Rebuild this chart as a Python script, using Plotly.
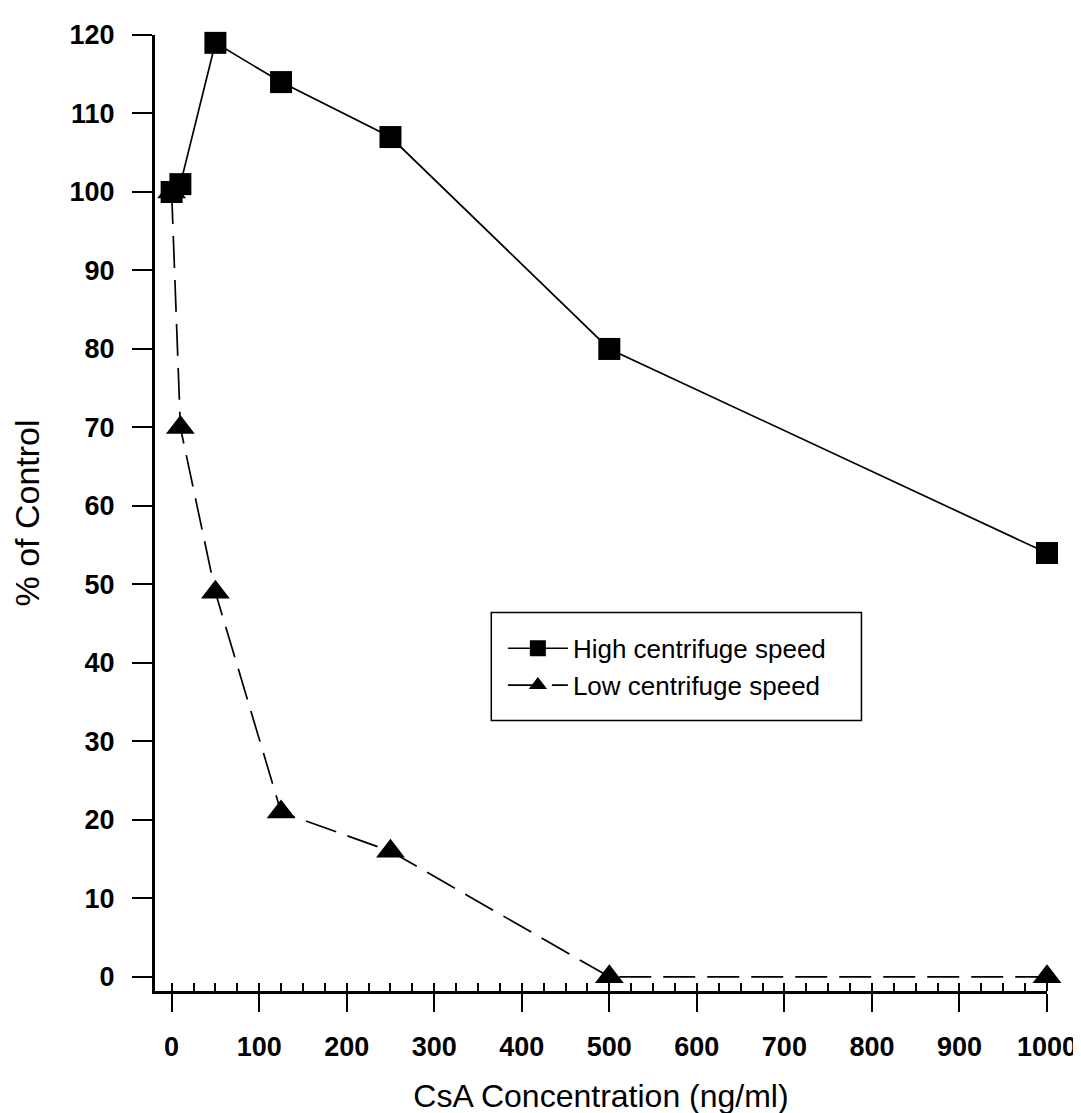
import plotly.graph_objects as go

conc = [0, 10, 50, 125, 250, 500, 1000]
high_speed = [100, 101, 119, 114, 107, 80, 54]
low_speed = [100, 70, 49, 21, 16, 0, 0]
x_ticks = [0, 100, 200, 300, 400, 500, 600, 700, 800, 900, 1000]
y_ticks = [0, 10, 20, 30, 40, 50, 60, 70, 80, 90, 100, 110, 120]

FONT = "Liberation Sans, Arial, sans-serif"

fig = go.Figure()
fig.add_trace(go.Scatter(
    x=conc, y=high_speed, mode="lines+markers", name="High centrifuge speed",
    line=dict(color="black", width=1.7),
    marker=dict(symbol="square", size=22, color="black"),
    cliponaxis=False,
))
fig.add_trace(go.Scatter(
    x=conc, y=low_speed, mode="lines+markers", name="Low centrifuge speed",
    line=dict(color="black", width=1.7, dash="32px,12px"),
    marker=dict(symbol="triangle-up", size=25, color="black"),
    cliponaxis=False,
))

fig.add_shape(type="rect", xref="paper", yref="paper",
              x0=0.377, x1=0.792, y0=0.283, y1=0.396,
              line=dict(color="black", width=1.5), fillcolor="rgba(0,0,0,0)")

fig.update_layout(
    width=1081, height=1113,
    margin=dict(l=147, r=35, t=24, b=129),
    paper_bgcolor="white", plot_bgcolor="white",
    font=dict(family=FONT, color="black"),
    showlegend=True,
    legend=dict(x=0.390, y=0.383, xanchor="left", yanchor="top",
                bgcolor="rgba(0,0,0,0)", borderwidth=0,
                font=dict(size=26, family=FONT), tracegroupgap=0,
                itemwidth=60),
    xaxis=dict(
        range=[-19, 1000], tickvals=x_ticks,
        showline=True, linecolor="black", linewidth=3,
        ticks="outside", ticklen=18, tickwidth=2, tickcolor="black",
        minor=dict(ticks="inside", dtick=25, tick0=0, ticklen=8, tickwidth=1.5, tickcolor="black"),
        showgrid=False, zeroline=False,
        tickfont=dict(size=27, family=FONT, weight="bold"),
        ticklabelstandoff=12,
        title=dict(text="CsA Concentration (ng/ml)", font=dict(size=32, family=FONT), standoff=24),
    ),
    yaxis=dict(
        range=[-1.8, 120], tickvals=y_ticks,
        showline=True, linecolor="black", linewidth=3,
        ticks="outside", ticklen=20, tickwidth=2, tickcolor="black",
        showgrid=False, zeroline=False,
        tickfont=dict(size=27, family=FONT, weight="bold"),
        ticklabelstandoff=12,
        title=dict(text="% of Control", font=dict(size=34, family=FONT), standoff=24),
    ),
)

fig.write_html("out.html")
